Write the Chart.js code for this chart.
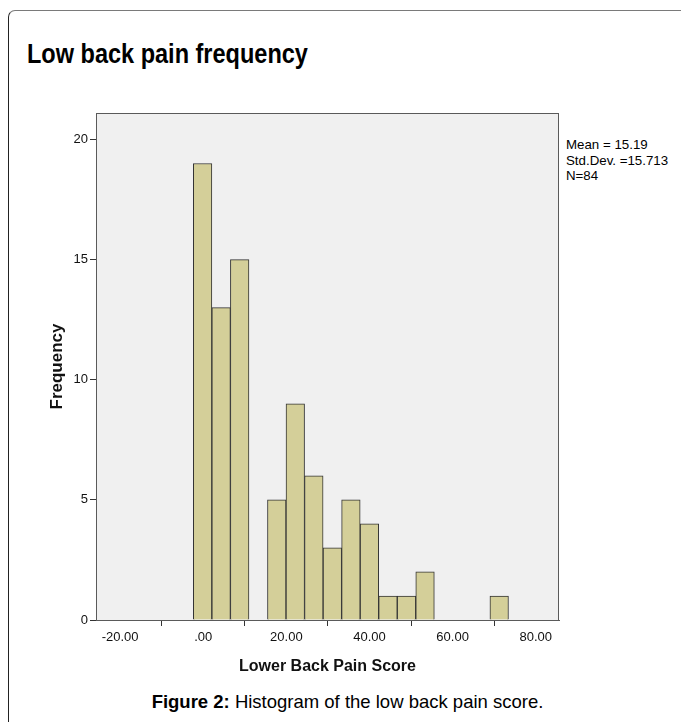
<!DOCTYPE html>
<html>
<head>
<meta charset="utf-8">
<script src="https://cdn.jsdelivr.net/npm/chart.js@4/dist/chart.umd.min.js"></script>
<style>
  html, body { margin: 0; padding: 0; background: #ffffff; }
  body { width: 681px; height: 722px; position: relative; overflow: hidden;
         font-family: "Liberation Sans", Arial, sans-serif; color: #000; }
  #frame { position: absolute; left: 8px; top: 10px; width: 800px; height: 800px;
           border-left: 1.5px solid #222; border-top: 1.5px solid #7a7a7a;
           border-top-left-radius: 7px; box-sizing: border-box; }
  #title { position: absolute; left: 27px; top: 40px; font-size: 27.5px; font-weight: bold;
           line-height: 1; white-space: nowrap; transform: scaleX(0.855); transform-origin: left top; }
  #stats { position: absolute; left: 566px; top: 137px; font-size: 13.3px; line-height: 15.7px;
           white-space: nowrap; }
  #caption { position: absolute; left: 0; width: 695px; text-align: center; top: 693px;
             font-size: 18.5px; line-height: 1; white-space: nowrap; }
  #chartBox { position: absolute; left: 0; top: 0; width: 681px; height: 722px; }
</style>
</head>
<body>
<div id="frame"></div>
<div id="title">Low back pain frequency</div>
<div id="stats">Mean = 15.19<br>Std.Dev. =15.713<br>N=84</div>
<div id="caption"><b>Figure 2:</b> Histogram of the low back pain score.</div>
<div id="chartBox"><canvas id="hist"></canvas></div>
<script>
// Histogram bins: centre of each score bin and the number of cases in it
const binCenters = [-0.15, 4.31, 8.77, 13.23, 17.69, 22.15, 26.61, 31.07, 35.53,
                    39.99, 44.45, 48.91, 53.37, 57.83, 62.29, 66.75, 71.21];
const frequencies = [19, 13, 15, 0, 5, 9, 6, 3, 5, 4, 1, 1, 2, 0, 0, 0, 1];

// Axis ticks
const xTicks = [-20, 0, 20, 40, 60, 80];
const xTickLabels = ['-20.00', '.00', '20.00', '40.00', '60.00', '80.00'];
const yTicks = [0, 5, 10, 15, 20];
const yTickLabels = ['0', '5', '10', '15', '20'];

const points = binCenters.map((c, i) => ({ x: c, y: frequencies[i] }));

// Grey plot panel with a frame around the chart area
const panel = {
  id: 'panel',
  beforeDraw(chart) {
    const { ctx, chartArea: a } = chart;
    ctx.save();
    ctx.fillStyle = '#f0f0f0';
    ctx.fillRect(a.left, a.top, a.right - a.left, a.bottom - a.top);
    ctx.restore();
  },
  afterDraw(chart) {
    const { ctx, chartArea: a } = chart;
    ctx.save();
    ctx.strokeStyle = '#5a5a5a';
    ctx.lineWidth = 1;
    ctx.strokeRect(a.left + 0.5, a.top + 0.5, a.right - a.left - 1, a.bottom - a.top);
    ctx.restore();
  }
};

new Chart(document.getElementById('hist'), {
  type: 'bar',
  data: {
    datasets: [{
      data: points,
      backgroundColor: '#d4cf99',
      borderColor: '#333333',
      borderWidth: 1,
      borderSkipped: 'start',
      barPercentage: 1,
      categoryPercentage: 1
    }]
  },
  options: {
    responsive: true,
    maintainAspectRatio: false,
    animation: false,
    layout: { padding: { left: 0, top: 113, right: 122, bottom: 42 } },
    plugins: { legend: { display: false }, tooltip: { enabled: false } },
    scales: {
      x: {
        type: 'linear',
        min: -25.8,
        max: 85.6,
        offset: false,
        afterBuildTicks(scale) { scale.ticks = xTicks.map(v => ({ value: v })); },
        afterFit(scale) { scale.height = 60; },
        ticks: {
          callback: (v, i) => xTickLabels[i],
          font: { family: '"Liberation Sans", Arial, sans-serif', size: 13 },
          color: '#111',
          padding: 4,
          maxRotation: 0
        },
        grid: { drawOnChartArea: false, drawTicks: true, tickLength: 6, color: '#333' },
        border: { display: true, color: '#5a5a5a' },
        title: {
          display: true,
          text: 'Lower Back Pain Score',
          font: { family: '"Liberation Sans", Arial, sans-serif', size: 16, weight: 'bold' },
          color: '#111',
          padding: { top: 0, bottom: 3.5 }
        }
      },
      y: {
        min: 0,
        max: 21.1,
        afterBuildTicks(scale) { scale.ticks = yTicks.map(v => ({ value: v })); },
        afterFit(scale) { scale.width = 96; },
        ticks: {
          callback: (v, i) => yTickLabels[i],
          font: { family: '"Liberation Sans", Arial, sans-serif', size: 13 },
          color: '#111',
          padding: 2
        },
        grid: { drawOnChartArea: false, drawTicks: true, tickLength: 6, color: '#333' },
        border: { display: true, color: '#5a5a5a' },
        title: {
          display: true,
          text: 'Frequency',
          font: { family: '"Liberation Sans", Arial, sans-serif', size: 17, weight: 'bold' },
          color: '#111',
          padding: { top: 47, bottom: 0 }
        }
      }
    }
  },
  plugins: [panel]
});
</script>
</body>
</html>
